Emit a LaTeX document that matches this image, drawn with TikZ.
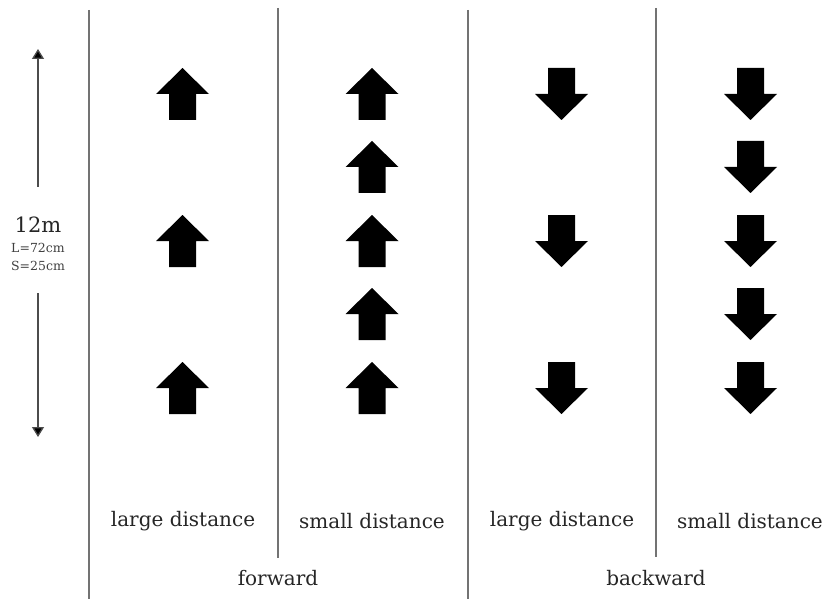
\documentclass[tikz,border=0pt]{standalone}
\usepackage{fontspec}
\setmainfont{DejaVu Serif}
\usetikzlibrary{arrows.meta}
\begin{document}
\begin{tikzpicture}[x=1pt,y=-1pt,
  divider/.style={draw=black!55,line width=1.6pt},
  lbl/.style={font=\fontsize{20}{24}\selectfont,text=black!85,inner sep=0pt},
  grp/.style={font=\fontsize{20}{24}\selectfont,text=black!85,inner sep=0pt},
  span/.style={black!70,line width=1.3pt,-{Triangle[length=10pt,width=12pt,fill=black]}}
]
\useasboundingbox (0,0) rectangle (833,599);
% column separators
\draw[divider] (89,10) -- (89,599);
\draw[divider] (278,8) -- (278,558);
\draw[divider] (468,10) -- (468,599);
\draw[divider] (656,8) -- (656,557);
% block arrows
\newcommand{\upblk}[2]{\fill (#1,#2) -- ++(26.5,26) -- ++(-13,0) -- ++(0,26) -- ++(-27,0) -- ++(0,-26) -- ++(-13,0) -- cycle;}
\newcommand{\dnblk}[2]{\fill (#1,#2+52) -- ++(26.5,-26) -- ++(-13,0) -- ++(0,-26) -- ++(-27,0) -- ++(0,26) -- ++(-13,0) -- cycle;}
\foreach \y in {68,215,362} {\upblk{182.5}{\y}}
\foreach \y in {68,141,215,288,362} {\upblk{372}{\y}}
\foreach \y in {68,215,362} {\dnblk{561.5}{\y}}
\foreach \y in {68,141,215,288,362} {\dnblk{750.5}{\y}}
% distance indicator
\node[font=\fontsize{21}{24}\selectfont,text=black!85,inner sep=0pt] (len) at (38,225) {12m};
\node[font=\fontsize{12.5}{14}\selectfont,text=black!75,inner sep=0pt] (ll) at (38,248) {L=72cm};
\node[font=\fontsize{12.5}{14}\selectfont,text=black!75,inner sep=0pt] (ss) at (38,266) {S=25cm};
\coordinate (topend) at (38,49);
\coordinate (botend) at (38,437);
\draw[span] (38,187) -- (topend);
\draw[span] (38,293) -- (botend);
% labels
\node[lbl] (f1) at (183,521) {large distance};
\node[lbl] (f2) at (372,521) {small distance};
\node[lbl] (b1) at (562,521) {large distance};
\node[lbl] (b2) at (750,521) {small distance};
\node[grp] (fw) at (278,578) {forward};
\node[grp] (bw) at (656,578) {backward};
\end{tikzpicture}
\end{document}
